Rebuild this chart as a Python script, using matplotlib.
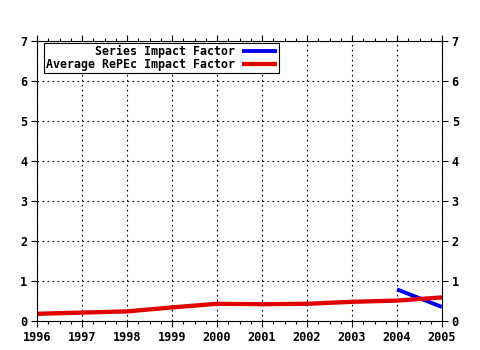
import matplotlib
matplotlib.use("Agg")
import matplotlib.pyplot as plt
from matplotlib.ticker import MultipleLocator

years = [1996, 1997, 1998, 1999, 2000, 2001, 2002, 2003, 2004, 2005]
avg_repec = [0.18, 0.21, 0.24, 0.34, 0.43, 0.42, 0.43, 0.48, 0.51, 0.59]

series_years = [2004, 2005]
series_if = [0.79, 0.35]

labels = ["Series Impact Factor", "Average RePEc Impact Factor"]

mono = "DejaVu Sans Mono"

fig = plt.figure(figsize=(4.8, 3.5), dpi=100)
ax = fig.add_axes([37 / 480, 29 / 350, 405 / 480, 280 / 350])

# pad the shorter label so both end at the same column (monospace)
width = max(len(s) for s in labels)
padded = [s.rjust(width) for s in labels]

ax.plot(series_years, series_if, color="#0000ee", lw=2.8, label=padded[0],
        solid_capstyle="butt")
ax.plot(years, avg_repec, color="#e00000", lw=3.1, label=padded[1],
        solid_capstyle="butt")

ax.set_xlim(1996, 2005)
ax.set_ylim(0, 7)
ax.set_xticks(years)
ax.set_yticks(range(0, 8))
ax.xaxis.set_minor_locator(MultipleLocator(0.25))
ax.grid(True, which="major", color="black", linestyle=(0, (1.5, 3)), lw=0.8)

ax.tick_params(which="major", direction="out", length=4, width=0.8,
               top=True, right=True, labelright=True, labelsize=8.6, pad=3)
ax.tick_params(which="minor", direction="out", length=2, width=0.8,
               top=True, bottom=True)
for t in ax.xaxis.get_major_ticks() + ax.yaxis.get_major_ticks():
    for lab in (t.label1, t.label2):
        lab.set_fontfamily(mono)
        lab.set_fontweight("bold")
for s in ax.spines.values():
    s.set_linewidth(0.8)

leg = ax.legend(loc="upper left", bbox_to_anchor=(7 / 405, 1 - 2 / 280),
                borderaxespad=0, markerfirst=False, fancybox=False,
                framealpha=1, edgecolor="black", handlelength=3,
                handletextpad=0.6, labelspacing=0.05, borderpad=0.15,
                prop={"family": mono, "weight": "bold", "size": 8.4})
leg.get_frame().set_linewidth(0.8)

fig.savefig("out.png", dpi=100)
